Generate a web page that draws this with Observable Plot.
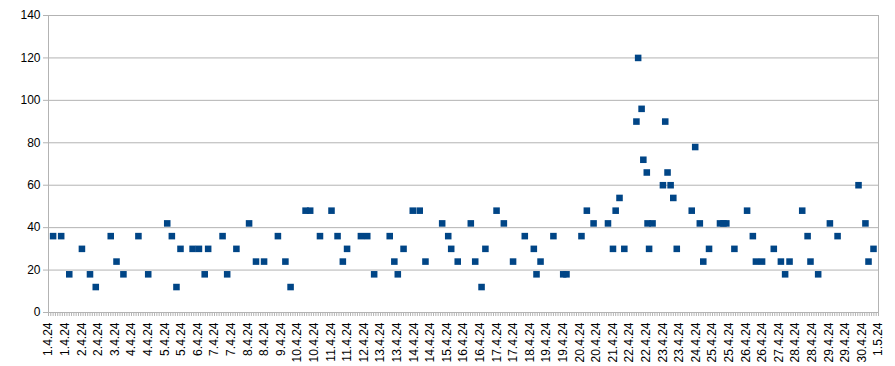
<!DOCTYPE html>
<html>
<head>
<meta charset="utf-8">
<script src="https://cdn.jsdelivr.net/npm/d3@7"></script>
<script src="https://cdn.jsdelivr.net/npm/@observablehq/plot@0.6"></script>
<style>
  html, body { margin: 0; padding: 0; background: #fff; }
  #chart svg { display: block; }
</style>
</head>
<body>
<div id="chart"></div>
<script>
// Observation timestamps (April 2024)
const times = [
  "2024-04-01 04:00","2024-04-01 11:00","2024-04-01 18:00","2024-04-02 05:00","2024-04-02 12:00",
  "2024-04-02 17:00","2024-04-03 06:00","2024-04-03 11:00","2024-04-03 17:00","2024-04-04 06:00",
  "2024-04-04 14:30","2024-04-05 07:00","2024-04-05 11:00","2024-04-05 15:00","2024-04-05 18:30",
  "2024-04-06 05:00","2024-04-06 10:30","2024-04-06 15:30","2024-04-06 18:30","2024-04-07 07:00",
  "2024-04-07 11:00","2024-04-07 19:00","2024-04-08 06:00","2024-04-08 12:00","2024-04-08 19:00",
  "2024-04-09 07:00","2024-04-09 13:30","2024-04-09 18:00","2024-04-10 07:00","2024-04-10 11:00",
  "2024-04-10 19:30","2024-04-11 05:30","2024-04-11 10:45","2024-04-11 15:20","2024-04-11 19:00",
  "2024-04-12 07:00","2024-04-12 12:30","2024-04-12 18:30","2024-04-13 08:00","2024-04-13 12:00",
  "2024-04-13 15:00","2024-04-13 20:00","2024-04-14 04:00","2024-04-14 10:00","2024-04-14 15:00",
  "2024-04-15 05:30","2024-04-15 10:45","2024-04-15 13:20","2024-04-15 19:00","2024-04-16 06:20",
  "2024-04-16 10:10","2024-04-16 15:40","2024-04-16 19:00","2024-04-17 04:40","2024-04-17 11:00",
  "2024-04-17 19:00","2024-04-18 05:10","2024-04-18 13:00","2024-04-18 15:20","2024-04-18 18:50",
  "2024-04-19 06:00","2024-04-19 14:30","2024-04-19 17:20","2024-04-20 06:20","2024-04-20 11:00",
  "2024-04-20 16:50","2024-04-21 05:20","2024-04-21 09:40","2024-04-21 12:00","2024-04-21 15:20",
  "2024-04-21 19:30","2024-04-22 06:00","2024-04-22 07:30","2024-04-22 10:30","2024-04-22 12:00",
  "2024-04-22 15:00","2024-04-22 15:40","2024-04-22 17:00","2024-04-22 20:00","2024-04-23 05:00",
  "2024-04-23 07:00","2024-04-23 09:00","2024-04-23 11:40","2024-04-23 14:00","2024-04-23 17:00",
  "2024-04-24 06:00","2024-04-24 09:00","2024-04-24 13:00","2024-04-24 16:00","2024-04-24 21:00",
  "2024-04-25 06:30","2024-04-25 09:30","2024-04-25 12:00","2024-04-25 19:00","2024-04-26 06:00",
  "2024-04-26 11:00","2024-04-26 13:40","2024-04-26 19:00","2024-04-27 05:10","2024-04-27 11:20",
  "2024-04-27 15:00","2024-04-27 18:50","2024-04-28 05:50","2024-04-28 10:30","2024-04-28 13:00",
  "2024-04-28 19:40","2024-04-29 05:50","2024-04-29 12:30","2024-04-30 06:40","2024-04-30 12:40",
  "2024-04-30 15:20","2024-04-30 19:40"
];

// Measured values
const values = [
  36, 36, 18, 30, 18,
  12, 36, 24, 18, 36,
  18, 42, 36, 12, 30,
  30, 30, 18, 30, 36,
  18, 30, 42, 24, 24,
  36, 24, 12, 48, 48,
  36, 48, 36, 24, 30,
  36, 36, 18, 36, 24,
  18, 30, 48, 48, 24,
  42, 36, 30, 24, 42,
  24, 12, 30, 48, 42,
  24, 36, 30, 18, 24,
  36, 18, 18, 36, 48,
  42, 42, 30, 48, 54,
  30, 90, 120, 96, 72,
  66, 42, 30, 42, 60,
  90, 66, 60, 54, 30,
  48, 78, 42, 24, 30,
  42, 42, 42, 30, 48,
  36, 24, 24, 30, 24,
  18, 24, 48, 36, 24,
  18, 42, 36, 60, 42,
  24, 30
];

// X-axis tick labels (every 14.4 hours)
const xTicks = [
  "2024-04-01 00:00","2024-04-01 14:24","2024-04-02 04:48","2024-04-02 19:12","2024-04-03 09:36",
  "2024-04-04 00:00","2024-04-04 14:24","2024-04-05 04:48","2024-04-05 19:12","2024-04-06 09:36",
  "2024-04-07 00:00","2024-04-07 14:24","2024-04-08 04:48","2024-04-08 19:12","2024-04-09 09:36",
  "2024-04-10 00:00","2024-04-10 14:24","2024-04-11 04:48","2024-04-11 19:12","2024-04-12 09:36",
  "2024-04-13 00:00","2024-04-13 14:24","2024-04-14 04:48","2024-04-14 19:12","2024-04-15 09:36",
  "2024-04-16 00:00","2024-04-16 14:24","2024-04-17 04:48","2024-04-17 19:12","2024-04-18 09:36",
  "2024-04-19 00:00","2024-04-19 14:24","2024-04-20 04:48","2024-04-20 19:12","2024-04-21 09:36",
  "2024-04-22 00:00","2024-04-22 14:24","2024-04-23 04:48","2024-04-23 19:12","2024-04-24 09:36",
  "2024-04-25 00:00","2024-04-25 14:24","2024-04-26 04:48","2024-04-26 19:12","2024-04-27 09:36",
  "2024-04-28 00:00","2024-04-28 14:24","2024-04-29 04:48","2024-04-29 19:12","2024-04-30 09:36",
  "2024-05-01 00:00"
];
const yTicks = [0, 20, 40, 60, 80, 100, 120, 140];
const xDomain = ["2024-04-01 00:00", "2024-05-01 00:00"];
const yDomain = [0, 140];

const parse = d3.utcParse("%Y-%m-%d %H:%M");
const data = times.map((t, i) => ({date: parse(t), value: values[i]}));
const xt = xTicks.map(parse);
const xd = xDomain.map(parse);
const minorTicks = d3.utcHour.every(2).range(xd[0], new Date(+xd[1] + 1));

const gridColor = "#b3b3b3";

const chart = Plot.plot({
  width: 895,
  height: 366,
  marginLeft: 48,
  marginRight: 17,
  marginTop: 15,
  marginBottom: 54,
  style: {
    fontFamily: "'Liberation Sans', Arial, sans-serif",
    fontSize: "12px",
    color: "#000",
    background: "#fff"
  },
  x: {type: "utc", domain: xd},
  y: {domain: yDomain},
  marks: [
    Plot.gridY(yTicks, {stroke: gridColor, strokeOpacity: 1}),
    Plot.frame({stroke: gridColor}),
    Plot.axisY(yTicks, {
      tickSize: 5, tickPadding: 3, stroke: gridColor, label: null,
      tickFormat: d => String(d)
    }),
    Plot.axisX({
      ticks: minorTicks, tickSize: 4, tickFormat: () => "", stroke: gridColor,
      label: null
    }),
    Plot.axisX({
      ticks: xt, tickSize: 0, tickPadding: 10, tickRotate: -90,
      tickFormat: d3.utcFormat("%-d.%-m.%y"), label: null
    }),
    Plot.dot(data, {
      x: "date", y: "value", symbol: "square", r: 3.7,
      fill: "#004586", stroke: null
    })
  ]
});

document.getElementById("chart").appendChild(chart);
</script>
</body>
</html>
